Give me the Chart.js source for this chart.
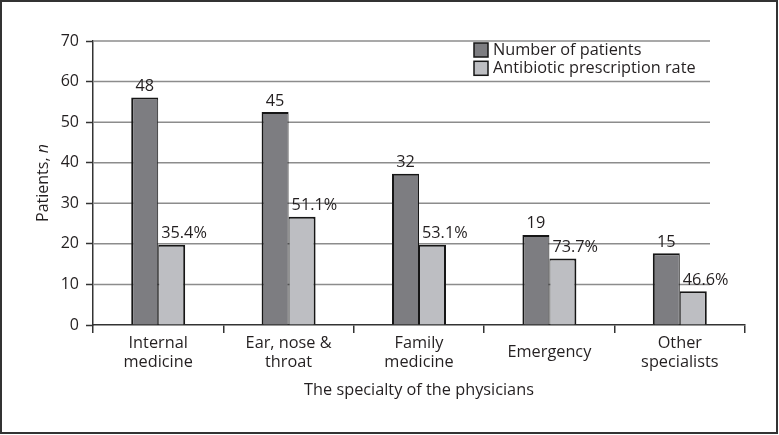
<!DOCTYPE html>
<html>
<head>
<meta charset="utf-8">
<script src="https://cdn.jsdelivr.net/npm/chart.js@4.4.1/dist/chart.umd.min.js"></script>
<style>
  html, body { margin: 0; padding: 0; background: #fff; }
  #wrap { width: 779px; height: 435px; position: relative; }
</style>
</head>
<body>
<div id="wrap"><canvas id="myChart"></canvas></div>
<script>
// values
const specialties = [['Internal', 'medicine'], ['Ear, nose &', 'throat'], ['Family', 'medicine'], 'Emergency', ['Other', 'specialists']];
const seriesNames = ['Number of patients', 'Antibiotic prescription rate'];
const patientBars = [56.1, 52.5, 37.3, 22.2, 17.7];
const rateBars = [19.8, 26.7, 19.8, 16.4, 8.3];
const patientLabels = ['48', '45', '32', '19', '15'];
const rateLabels = ['35.4%', '51.1%', '53.1%', '73.7%', '46.6%'];
const yMin = 0, yMax = 70, yStep = 10;

const FONT = '"Open Sans", "Noto Sans", sans-serif';
const SIZE = 16.3;
const INK = '#231f20';
const DARK = '#7d7d81';
const LIGHT = '#bdbec2';
const EDGE = '#161616';

// grid lines stop short of the axis end, like the original
const gridLines = {
    id: 'gridLines',
    beforeDatasetsDraw(chart) {
        const { ctx, chartArea, scales: { y } } = chart;
        ctx.save();
        ctx.strokeStyle = '#8c8c8c';
        ctx.lineWidth = 1.5;
        y.ticks.forEach(t => {
            if (t.value === yMin) return;
            const py = y.getPixelForValue(t.value);
            ctx.beginPath();
            ctx.moveTo(chartArea.left, py);
            ctx.lineTo(chartArea.right - 35, py);
            ctx.stroke();
        });
        ctx.restore();
    }
};

const barLabels = {
    id: 'barLabels',
    afterDatasetsDraw(chart) {
        const { ctx } = chart;
        ctx.save();
        ctx.font = SIZE + 'px ' + FONT;
        ctx.fillStyle = INK;
        ctx.textBaseline = 'alphabetic';
        chart.getDatasetMeta(0).data.forEach((bar, i) => {
            ctx.textAlign = 'center';
            ctx.fillText(patientLabels[i], bar.x, bar.y - 6.5);
        });
        chart.getDatasetMeta(1).data.forEach((bar, i) => {
            ctx.textAlign = 'left';
            ctx.fillText(rateLabels[i], bar.x - bar.width / 2 + 3, bar.y - 6.5);
        });
        ctx.restore();
    }
};

const legendBox = {
    id: 'legendBox',
    afterDraw(chart) {
        const { ctx, chartArea } = chart;
        const x0 = chartArea.right - 271;
        ctx.save();
        ctx.font = SIZE + 'px ' + FONT;
        ctx.textBaseline = 'middle';
        ctx.textAlign = 'left';
        chart.data.datasets.forEach((ds, i) => {
            const cy = chartArea.top + 9 + i * 18.3;
            ctx.fillStyle = ds.backgroundColor;
            ctx.fillRect(x0, cy - 7, 14, 14);
            ctx.strokeStyle = EDGE;
            ctx.lineWidth = 1.5;
            ctx.strokeRect(x0, cy - 7, 14, 14);
            ctx.fillStyle = INK;
            ctx.fillText(ds.label, x0 + 19, cy);
        });
        ctx.restore();
    }
};

const frame = {
    id: 'frame',
    beforeDraw(chart) {
        const { ctx, width, height } = chart;
        ctx.save();
        ctx.fillStyle = '#fff';
        ctx.fillRect(0, 0, width, height);
        ctx.restore();
    },
    afterDraw(chart) {
        const { ctx, width, height, chartArea } = chart;
        ctx.save();
        ctx.strokeStyle = '#333';
        ctx.lineWidth = 2;
        ctx.strokeRect(1, 1, width - 3, height - 3);
        // y title with italic n
        const mid = (chartArea.top + chartArea.bottom) / 2;
        ctx.translate(43, mid);
        ctx.rotate(-Math.PI / 2);
        ctx.fillStyle = INK;
        ctx.textBaseline = 'middle';
        ctx.textAlign = 'left';
        const a = 'Patients, ', b = 'n';
        ctx.font = '16px ' + FONT;
        const wa = ctx.measureText(a).width;
        ctx.font = 'italic 16px ' + FONT;
        const wb = ctx.measureText(b).width;
        const start = -(wa + wb) / 2;
        ctx.font = '16px ' + FONT;
        ctx.fillText(a, start, 0);
        ctx.font = 'italic 16px ' + FONT;
        ctx.fillText(b, start + wa, 0);
        ctx.restore();
    }
};

const ctx = document.querySelector('#myChart').getContext('2d');
new Chart(ctx, {
    type: 'bar',
    data: {
        labels: specialties,
        datasets: [{
            label: seriesNames[0],
            data: patientBars,
            backgroundColor: DARK,
            borderColor: EDGE,
            borderWidth: { top: 2, left: 2, right: 1, bottom: 0 },
            borderSkipped: false
        }, {
            label: seriesNames[1],
            data: rateBars,
            backgroundColor: LIGHT,
            borderColor: EDGE,
            borderWidth: { top: 2, left: 1, right: 2, bottom: 0 },
            borderSkipped: false
        }]
    },
    options: {
        responsive: true,
        maintainAspectRatio: false,
        devicePixelRatio: 1,
        animation: false,
        categoryPercentage: 0.414,
        barPercentage: 1,
        layout: { padding: { left: 0, right: 34, top: 41, bottom: 0 } },
        plugins: {
            legend: { display: false },
            tooltip: { enabled: false }
        },
        scales: {
            x: {
                afterFit: s => { s.height = 110; },
                grid: { drawOnChartArea: false, tickLength: 8, color: '#333', lineWidth: 1.5, offset: true },
                border: { color: '#333', width: 1.5 },
                ticks: {
                    color: INK,
                    font: { family: FONT, size: SIZE, lineHeight: 1.166 },
                    padding: 10,
                    maxRotation: 0,
                    minRotation: 0,
                    autoSkip: false,
                    crossAlign: 'center'
                },
                title: {
                    display: true,
                    text: 'The specialty of the physicians',
                    color: INK,
                    font: { family: FONT, size: SIZE, lineHeight: 1.2 },
                    padding: { top: 0, bottom: 35 }
                }
            },
            y: {
                min: yMin,
                max: yMax,
                afterFit: s => { s.width = 93; },
                grid: { drawOnChartArea: false, tickLength: 7, tickColor: '#333', tickWidth: 1.5 },
                border: { color: '#333', width: 1.5 },
                ticks: {
                    stepSize: yStep,
                    color: INK,
                    padding: 7,
                    font: { family: FONT, size: 16 }
                }
            }
        }
    },
    plugins: [frame, gridLines, barLabels, legendBox]
});
</script>
</body>
</html>
